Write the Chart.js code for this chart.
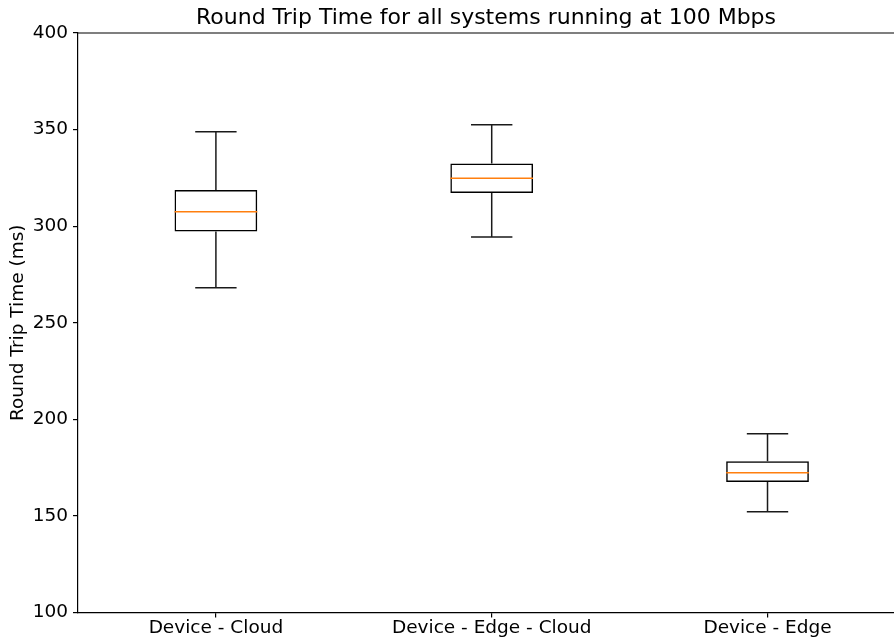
<!DOCTYPE html>
<html>
<head>
<meta charset="utf-8">
<script src="https://cdn.jsdelivr.net/npm/chart.js@4.4.0/dist/chart.umd.min.js"></script>
<style>
  html, body { margin: 0; padding: 0; background: #fff; overflow: hidden; }
  canvas { display: block; }
</style>
</head>
<body>
<canvas id="c" width="894" height="640"></canvas>
<script>
const categories = ['Device - Cloud', 'Device - Edge - Cloud', 'Device - Edge'];
const positions = [1, 2, 3];
const whiskerLow = [268.1, 294.4, 152.2];
const q1 = [297.3, 317.2, 167.6];
const medians = [307.5, 324.8, 172.4];
const q3 = [318.7, 332.5, 178.3];
const whiskerHigh = [348.9, 352.5, 192.6];
const yTicks = [100, 150, 200, 250, 300, 350, 400];

const FONT = "'DejaVu Sans', sans-serif";
const BOX_FRAC = 0.3;   // box width as fraction of position spacing
const CAP_FRAC = 0.15;  // cap width fraction

const boxPlugin = {
  id: 'boxWhiskers',
  afterDatasetsDraw(chart) {
    const ctx = chart.ctx;
    const xs = chart.scales.x, ys = chart.scales.y;
    const step = xs.getPixelForValue(2) - xs.getPixelForValue(1);
    ctx.save();
    for (let i = 0; i < positions.length; i++) {
      const cx = xs.getPixelForValue(positions[i]);
      const hb = step * BOX_FRAC / 2;
      const hc = step * CAP_FRAC / 2;
      const yLo = ys.getPixelForValue(whiskerLow[i]);
      const yQ1 = ys.getPixelForValue(q1[i]);
      const yQ3 = ys.getPixelForValue(q3[i]);
      const yHi = ys.getPixelForValue(whiskerHigh[i]);
      const yMed = ys.getPixelForValue(medians[i]);
      ctx.strokeStyle = '#1a1a1a';
      ctx.lineWidth = 1.5;
      ctx.beginPath();
      ctx.moveTo(cx, yQ1); ctx.lineTo(cx, yLo);
      ctx.moveTo(cx, yQ3); ctx.lineTo(cx, yHi);
      ctx.moveTo(cx - hc, yLo); ctx.lineTo(cx + hc, yLo);
      ctx.moveTo(cx - hc, yHi); ctx.lineTo(cx + hc, yHi);
      ctx.stroke();
      ctx.strokeStyle = '#ff7f0e';
      ctx.beginPath();
      ctx.moveTo(cx - hb, yMed); ctx.lineTo(cx + hb, yMed);
      ctx.stroke();
    }
    // top spine
    const a = chart.chartArea;
    ctx.strokeStyle = '#000';
    ctx.lineWidth = 1.2;
    ctx.beginPath();
    ctx.moveTo(a.left, a.top); ctx.lineTo(a.right, a.top);
    ctx.stroke();
    ctx.restore();
  }
};

new Chart(document.getElementById('c'), {
  type: 'bar',
  data: {
    datasets: [{
      data: positions.map((p, i) => ({ x: p, y: [q1[i], q3[i]] })),
      backgroundColor: 'rgba(0,0,0,0)',
      borderColor: '#000',
      borderWidth: 1.5,
      borderSkipped: false,
      categoryPercentage: 1,
      barPercentage: BOX_FRAC
    }]
  },
  options: {
    responsive: false,
    animation: false,
    events: [],
    layout: { padding: 0 },
    plugins: {
      legend: { display: false },
      tooltip: { enabled: false },
      title: {
        display: true,
        text: 'Round Trip Time for all systems running at 100 Mbps',
        color: '#000',
        font: { family: FONT, size: 22, weight: 'normal' },
        padding: { top: 5, bottom: 1.6 },
        fullSize: false
      }
    },
    scales: {
      x: {
        type: 'linear',
        min: 0.5,
        max: 3.4586,
        offset: false,
        afterBuildTicks: (s) => { s.ticks = positions.map(v => ({ value: v })); },
        afterFit: (s) => { s.height = 27.5; },
        ticks: {
          autoSkip: false,
          maxRotation: 0,
          color: '#000',
          padding: 0,
          font: { family: FONT, size: 18.5 },
          callback: (v, idx) => categories[idx]
        },
        grid: { display: true, drawOnChartArea: false, drawTicks: true, tickLength: 5, color: '#000', lineWidth: 1.2, offset: false },
        border: { display: true, color: '#000', width: 1.2 }
      },
      y: {
        type: 'linear',
        min: 100,
        max: 400,
        afterBuildTicks: (s) => { s.ticks = yTicks.map(v => ({ value: v })); },
        afterFit: (s) => { s.width = 78; },
        ticks: {
          color: '#000',
          padding: 5,
          font: { family: FONT, size: 18.5 }
        },
        title: {
          display: true,
          text: 'Round Trip Time (ms)',
          color: '#000',
          font: { family: FONT, size: 18.5 },
          padding: { top: 7, bottom: 0 }
        },
        grid: { display: true, drawOnChartArea: false, drawTicks: true, tickLength: 5, color: '#000', lineWidth: 1.2 },
        border: { display: true, color: '#000', width: 1.2 }
      }
    }
  },
  plugins: [boxPlugin]
});
</script>
</body>
</html>
